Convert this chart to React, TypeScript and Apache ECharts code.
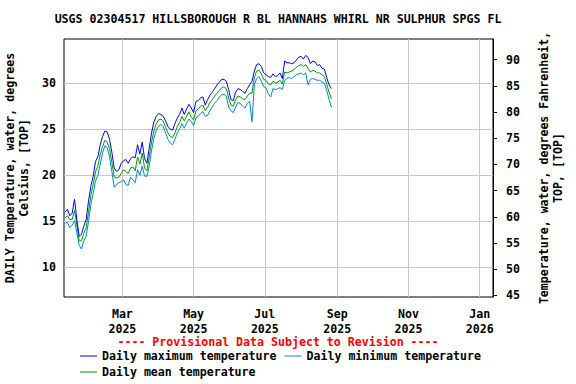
import { useEffect, useRef } from 'react';
import * as echarts from 'echarts';

const TITLE = 'USGS 02304517 HILLSBOROUGH R BL HANNAHS WHIRL NR SULPHUR SPGS FL';
const PROVISIONAL = '---- Provisional Data Subject to Revision ----';
const LEFT_AXIS_NAME = 'DAILY Temperature, water, degrees\nCelsius, [TOP]';
const RIGHT_AXIS_NAME = 'Temperature, water, degrees Fahrenheit,\nTOP, [TOP]';
const SERIES_NAMES = ['Daily maximum temperature', 'Daily minimum temperature', 'Daily mean temperature'];

// Readings every two days, starting 2025-01-11
const START_DATE = '2025-01-11';
const STEP_DAYS = 2;

const maxTemp = [
  16.0, 16.3, 15.6, 15.9, 17.4, 15.2, 13.4, 13.6, 14.5, 15.2,
  17.2, 18.8, 19.9, 21.5, 22.0, 23.3, 24.2, 24.8, 24.7, 23.9,
  22.5, 20.8, 20.4, 20.6, 21.3, 21.6, 21.7, 21.3, 21.8, 22.0,
  21.9, 23.3, 22.3, 23.6, 21.8, 21.3, 23.0, 24.6, 25.8, 26.4,
  26.7, 26.6, 26.4, 25.9, 25.3, 25.0, 24.9, 25.6, 26.2, 26.6,
  27.3, 26.6, 27.2, 27.7, 27.3, 26.8, 28.0, 28.1, 28.4, 28.5,
  27.6, 28.2, 28.7, 29.0, 29.4, 29.8, 30.1, 30.4, 30.4, 30.2,
  29.3, 28.2, 28.1, 29.0, 29.4, 29.3, 29.1, 28.9, 29.4, 29.8,
  30.2, 31.3, 32.0, 32.1, 31.8, 31.1, 30.9, 30.7, 30.6, 31.0,
  30.7, 30.8, 31.1, 30.5, 32.4, 32.2, 32.2, 32.1, 32.2, 32.5,
  32.8, 32.9, 32.6, 33.0, 32.8, 32.1, 32.4, 32.3, 31.9, 32.0,
  31.6, 31.5, 30.6, 29.8, 29.4,
];

const minTemp = [
  14.8, 14.9, 14.3, 14.6, 15.1, 13.8, 12.4, 12.0, 12.9, 13.4,
  15.0, 16.8, 18.0, 19.4, 20.0, 21.2, 22.4, 23.2, 23.0, 22.0,
  20.4, 18.7, 19.0, 19.2, 19.3, 19.5, 19.0, 18.9, 19.8, 19.5,
  19.2, 20.6, 20.0, 21.0, 19.9, 19.9, 21.0, 22.7, 24.0, 24.9,
  25.3, 25.5, 25.3, 24.6, 23.9, 23.5, 23.3, 23.9, 24.6, 25.0,
  25.6, 25.1, 25.7, 26.1, 25.8, 25.4, 26.2, 26.4, 26.7, 26.9,
  26.4, 26.5, 27.0, 27.4, 27.8, 28.1, 28.5, 28.7, 28.8, 28.6,
  27.4, 27.0, 26.8, 27.4, 27.9, 27.8, 27.5, 27.3, 27.8, 28.0,
  25.8, 29.8, 30.5, 30.7, 30.2, 29.6, 29.5, 28.8, 28.5, 29.4,
  29.3, 29.4, 29.5, 29.3, 30.3, 30.5, 30.6, 30.5, 30.7, 30.9,
  31.0, 31.1, 30.9, 31.1, 29.8, 30.4, 30.5, 30.4, 30.3, 30.3,
  30.1, 30.0, 29.2, 28.2, 27.4,
];

const meanTemp = [
  15.4, 15.6, 15.2, 15.2, 16.2, 14.6, 12.9, 12.9, 13.7, 14.3,
  16.0, 17.8, 19.0, 20.4, 21.0, 22.2, 23.1, 23.8, 23.6, 22.9,
  21.4, 19.8, 19.7, 19.8, 20.2, 20.6, 20.4, 20.2, 20.8, 20.9,
  20.5, 22.0, 21.2, 22.4, 20.8, 20.5, 22.0, 23.6, 24.8, 25.6,
  26.0, 26.1, 25.9, 25.2, 24.6, 24.2, 24.1, 24.6, 25.3, 25.7,
  26.4, 25.9, 26.4, 26.9, 26.3, 26.0, 27.0, 27.2, 27.5, 27.6,
  27.0, 27.4, 27.9, 28.2, 28.6, 28.9, 29.2, 29.5, 29.6, 29.4,
  28.4, 27.6, 27.5, 28.2, 28.6, 28.5, 28.3, 28.2, 28.6, 28.9,
  28.9, 30.6, 31.3, 31.4, 31.0, 30.4, 30.3, 29.9, 29.8, 30.2,
  30.0, 30.1, 30.3, 29.9, 31.2, 31.1, 31.2, 31.3, 31.5, 31.7,
  31.9, 32.0, 31.8, 32.0, 31.6, 31.2, 31.4, 31.3, 31.1, 31.1,
  30.9, 30.7, 29.9, 29.0, 28.3,
];

const celsiusTicks = [10, 15, 20, 25, 30];
const fahrenheitTicks = [45, 50, 55, 60, 65, 70, 75, 80, 85, 90];
const monthTicks = ['2025-03-01', '2025-05-01', '2025-07-01', '2025-09-01', '2025-11-01', '2026-01-01'];
const MONTH_NAMES = ['Jan', 'Feb', 'Mar', 'Apr', 'May', 'Jun', 'Jul', 'Aug', 'Sep', 'Oct', 'Nov', 'Dec'];

const X_MIN = '2025-01-10T00:00:00Z';
const X_MAX = '2026-01-12T10:00:00Z';
const C_MIN = 6.8;
const C_MAX = 34.78;
const F_MIN = 44.67;
const F_MAX = 93.96;

const COLORS = { max: '#0000ff', min: '#0088cc', mean: '#009900' };
const FONT = "'DejaVu Sans Mono', 'Liberation Mono', monospace";
const FS = 11.6;

const DAY = 86400000;
const toTs = (s: string) => Date.parse(s.length === 10 ? s + 'T00:00:00Z' : s);
const startTs = toTs(START_DATE);
const pair = (arr: number[]) => arr.map((v, i) => [startTs + i * STEP_DAYS * DAY, v]);

export default function App() {
  const ref = useRef<HTMLDivElement>(null);
  useEffect(() => {
    if (!ref.current) return;
    const chart = echarts.init(ref.current, null, { renderer: 'svg' });
    const txt = { fontFamily: FONT, fontWeight: 'bold' as const, fontSize: FS, color: '#000' };
    const monthTs = monthTicks.map(toTs);
    const legendCommon = {
      icon: 'rect',
      itemWidth: 17,
      itemHeight: 1,
      itemGap: 8,
      padding: 0,
      selectedMode: false,
      textStyle: { ...txt, lineHeight: 12 },
    };
    chart.setOption({
      animation: false,
      backgroundColor: '#fff',
      graphic: [
        {
          type: 'text', x: 278, y: 19,
          style: { text: TITLE, font: `bold ${FS}px ${FONT}`, fill: '#000', textAlign: 'center', textVerticalAlign: 'middle' },
        },
        {
          type: 'text', x: 278, y: 342,
          style: { text: PROVISIONAL, font: `bold ${FS}px ${FONT}`, fill: '#ff0000', textAlign: 'center', textVerticalAlign: 'middle' },
        },
      ],
      grid: {
        left: 64, top: 39, width: 429, height: 258,
        outerBoundsMode: 'none', containLabel: false,
        show: true, borderColor: '#000', borderWidth: 1, backgroundColor: 'transparent',
      },
      legend: [
        { ...legendCommon, data: [SERIES_NAMES[0], SERIES_NAMES[1]], left: 80, top: 350 },
        { ...legendCommon, data: [SERIES_NAMES[2]], left: 80, top: 366 },
      ],
      xAxis: {
        type: 'value',
        min: toTs(X_MIN),
        max: toTs(X_MAX),
        axisLine: { show: false },
        axisTick: { show: false, customValues: monthTs },
        axisLabel: {
          ...txt,
          customValues: monthTs,
          margin: 9,
          lineHeight: 15,
          hideOverlap: false,
          formatter: (v: number) => {
            const d = new Date(v);
            if (d.getUTCDate() !== 1) return '';
            return `${MONTH_NAMES[d.getUTCMonth()]}\n${d.getUTCFullYear()}`;
          },
        },
        splitLine: { show: true, lineStyle: { color: '#c8c8c8', width: 1 } },
      },
      yAxis: [
        {
          type: 'value',
          position: 'left',
          min: C_MIN,
          max: C_MAX,
          splitNumber: 5,
          axisLine: { show: false },
          axisTick: { show: false, customValues: celsiusTicks },
          axisLabel: { ...txt, customValues: celsiusTicks, margin: 8 },
          splitLine: { show: true, lineStyle: { color: '#c8c8c8', width: 1 } },
          name: LEFT_AXIS_NAME,
          nameLocation: 'middle',
          nameRotate: 90,
          nameGap: 23,
          nameTextStyle: { ...txt, lineHeight: 14 },
        },
        {
          type: 'value',
          position: 'right',
          min: F_MIN,
          max: F_MAX,
          splitNumber: 10,
          axisLine: { show: true, lineStyle: { color: '#000', width: 1 } },
          axisTick: { show: true, inside: false, length: 4, customValues: fahrenheitTicks, lineStyle: { color: '#000' } },
          axisLabel: { ...txt, customValues: fahrenheitTicks, margin: 13 },
          splitLine: { show: false },
          name: RIGHT_AXIS_NAME,
          nameLocation: 'middle',
          nameRotate: 90,
          nameGap: 44,
          nameTextStyle: { ...txt, lineHeight: 14 },
        },
      ],
      series: [
        {
          name: SERIES_NAMES[1], type: 'line', yAxisIndex: 0, data: pair(minTemp),
          symbol: 'none', showSymbol: false,
          lineStyle: { width: 1, color: COLORS.min }, itemStyle: { color: COLORS.min },
        },
        {
          name: SERIES_NAMES[2], type: 'line', yAxisIndex: 0, data: pair(meanTemp),
          symbol: 'none', showSymbol: false,
          lineStyle: { width: 1, color: COLORS.mean }, itemStyle: { color: COLORS.mean },
        },
        {
          name: SERIES_NAMES[0], type: 'line', yAxisIndex: 0, data: pair(maxTemp),
          symbol: 'none', showSymbol: false,
          lineStyle: { width: 1, color: COLORS.max }, itemStyle: { color: COLORS.max },
        },
      ],
    });
    return () => chart.dispose();
  }, []);
  return <div ref={ref} style={{ width: 576, height: 384, position: 'fixed', left: 0, top: 0 }} />;
}
